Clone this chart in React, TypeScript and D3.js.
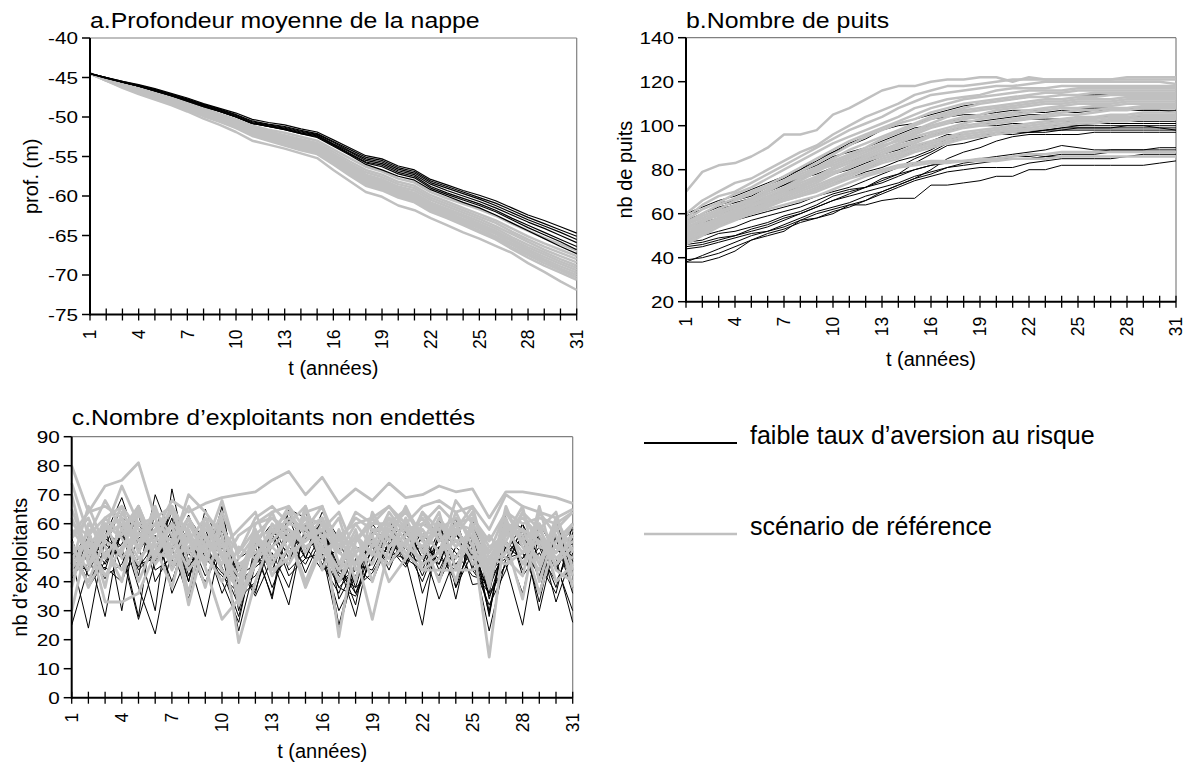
import React from "react";
import * as d3 from "d3";

// ---------- shared categories ----------
const YEARS = [1,2,3,4,5,6,7,8,9,10,11,12,13,14,15,16,17,18,19,20,21,22,23,24,25,26,27,28,29,30,31];
const X_TICK_LABELS = [1,4,7,10,13,16,19,22,25,28,31];

// ---------- panel a : profondeur moyenne de la nappe ----------
const A_Y_TICKS = [-40,-45,-50,-55,-60,-65,-70,-75];
const A_BLACK = [
  [-44.5,-45.0,-45.5,-45.9,-46.4,-47.0,-47.6,-48.3,-48.9,-49.5,-50.3,-50.7,-51.0,-51.5,-51.9,-52.9,-53.9,-54.9,-55.3,-56.2,-56.7,-57.9,-58.6,-59.3,-59.9,-60.6,-61.5,-62.4,-63.1,-63.9,-64.7],
  [-44.5,-45.0,-45.5,-46.0,-46.5,-47.1,-47.7,-48.4,-49.0,-49.7,-50.5,-50.9,-51.2,-51.7,-52.1,-53.1,-54.1,-55.1,-55.5,-56.4,-56.9,-58.1,-58.8,-59.5,-60.2,-60.9,-61.8,-62.7,-63.5,-64.3,-65.1],
  [-44.5,-45.0,-45.6,-46.0,-46.6,-47.2,-47.8,-48.5,-49.1,-49.8,-50.6,-51.0,-51.3,-51.8,-52.2,-53.2,-54.3,-55.3,-55.7,-56.6,-57.1,-58.3,-59.0,-59.7,-60.4,-61.2,-62.1,-63.0,-63.8,-64.6,-65.5],
  [-44.5,-45.0,-45.6,-46.1,-46.6,-47.2,-47.9,-48.6,-49.2,-49.9,-50.7,-51.1,-51.4,-51.9,-52.3,-53.4,-54.4,-55.5,-55.9,-56.8,-57.3,-58.5,-59.3,-60.0,-60.7,-61.5,-62.4,-63.3,-64.1,-65.0,-65.9],
  [-44.5,-45.1,-45.6,-46.1,-46.7,-47.3,-47.9,-48.6,-49.3,-50.0,-50.8,-51.2,-51.5,-52.0,-52.4,-53.5,-54.6,-55.7,-56.1,-57.0,-57.5,-58.8,-59.6,-60.3,-61.0,-61.8,-62.8,-63.7,-64.6,-65.5,-66.4],
  [-44.5,-45.1,-45.6,-46.1,-46.7,-47.3,-48.0,-48.7,-49.3,-50.0,-50.8,-51.2,-51.6,-52.1,-52.5,-53.6,-54.7,-55.8,-56.3,-57.2,-57.7,-59.0,-59.8,-60.5,-61.2,-62.0,-63.0,-64.0,-64.9,-65.8,-66.8],
  [-44.5,-45.1,-45.6,-46.1,-46.7,-47.3,-48.0,-48.7,-49.3,-50.0,-50.8,-51.2,-51.6,-52.1,-52.6,-53.7,-54.8,-56.0,-56.7,-57.5,-58.0,-59.2,-60.0,-60.8,-61.5,-62.4,-63.4,-64.4,-65.4,-66.4,-67.3],
];
const A_GRAY = [
  [-44.5,-45.2,-45.8,-46.3,-46.9,-47.5,-48.2,-48.9,-49.6,-50.3,-51.1,-51.6,-52.0,-52.5,-53.0,-54.1,-55.2,-56.3,-56.9,-57.8,-58.3,-59.5,-60.3,-61.0,-61.7,-62.5,-63.5,-64.4,-65.3,-66.1,-66.9],
  [-44.5,-45.2,-45.8,-46.4,-47.0,-47.6,-48.3,-49.0,-49.7,-50.4,-51.3,-51.8,-52.3,-52.8,-53.3,-54.4,-55.6,-56.7,-57.3,-58.2,-58.7,-59.9,-60.7,-61.5,-62.3,-63.1,-64.1,-65.1,-66.0,-66.8,-67.6],
  [-44.5,-45.2,-45.9,-46.5,-47.1,-47.7,-48.4,-49.1,-49.8,-50.5,-51.4,-52.0,-52.5,-53.0,-53.5,-54.7,-55.9,-57.0,-57.6,-58.5,-59.0,-60.2,-61.0,-61.8,-62.6,-63.4,-64.5,-65.5,-66.4,-67.2,-68.0],
  [-44.5,-45.3,-45.9,-46.5,-47.1,-47.8,-48.5,-49.2,-49.9,-50.7,-51.6,-52.2,-52.7,-53.2,-53.7,-54.9,-56.1,-57.3,-57.9,-58.8,-59.3,-60.5,-61.3,-62.1,-62.9,-63.8,-64.8,-65.8,-66.8,-67.6,-68.4],
  [-44.5,-45.3,-46.0,-46.6,-47.2,-47.8,-48.6,-49.3,-50.0,-50.8,-51.7,-52.4,-52.9,-53.4,-53.9,-55.1,-56.3,-57.5,-58.1,-59.0,-59.6,-60.8,-61.6,-62.4,-63.2,-64.1,-65.2,-66.2,-67.1,-68.0,-68.8],
  [-44.5,-45.3,-46.0,-46.6,-47.3,-47.9,-48.7,-49.4,-50.1,-50.9,-51.8,-52.5,-53.0,-53.5,-54.0,-55.3,-56.5,-57.7,-58.3,-59.2,-59.8,-61.0,-61.8,-62.6,-63.5,-64.4,-65.5,-66.5,-67.4,-68.3,-69.1],
  [-44.5,-45.3,-46.0,-46.7,-47.3,-48.0,-48.7,-49.5,-50.2,-51.0,-51.9,-52.6,-53.1,-53.7,-54.2,-55.5,-56.7,-57.9,-58.5,-59.4,-60.0,-61.2,-62.0,-62.9,-63.7,-64.6,-65.7,-66.8,-67.7,-68.6,-69.4],
  [-44.5,-45.3,-46.1,-46.7,-47.4,-48.1,-48.8,-49.6,-50.3,-51.1,-52.0,-52.7,-53.3,-53.8,-54.3,-55.6,-56.9,-58.1,-58.7,-59.6,-60.2,-61.4,-62.2,-63.1,-63.9,-64.8,-66.0,-67.0,-68.0,-68.9,-69.7],
  [-44.5,-45.3,-46.1,-46.8,-47.4,-48.1,-48.9,-49.7,-50.4,-51.2,-52.1,-52.8,-53.4,-53.9,-54.5,-55.8,-57.1,-58.3,-58.9,-59.8,-60.4,-61.6,-62.4,-63.3,-64.1,-65.1,-66.2,-67.3,-68.2,-69.2,-70.0],
  [-44.5,-45.4,-46.1,-46.8,-47.5,-48.2,-49.0,-49.8,-50.5,-51.3,-52.3,-52.9,-53.5,-54.1,-54.6,-55.9,-57.2,-58.5,-59.1,-60.0,-60.6,-61.8,-62.6,-63.5,-64.4,-65.3,-66.5,-67.5,-68.5,-69.4,-70.3],
  [-44.5,-45.4,-46.2,-46.9,-47.6,-48.3,-49.1,-49.9,-50.6,-51.4,-52.4,-53.0,-53.6,-54.2,-54.7,-56.0,-57.4,-58.7,-59.3,-60.2,-60.8,-62.0,-62.8,-63.7,-64.6,-65.5,-66.7,-67.8,-68.8,-69.7,-70.6],
  [-44.5,-45.4,-46.3,-47.1,-47.8,-48.5,-49.3,-50.2,-51.0,-51.9,-53.0,-53.5,-54.0,-54.6,-55.2,-56.7,-58.1,-59.5,-60.1,-61.2,-61.8,-62.8,-63.7,-64.6,-65.4,-66.3,-67.2,-68.5,-69.6,-70.8,-71.9],
];

// ---------- panel b : nombre de puits ----------
const B_Y_TICKS = [20,40,60,80,100,120,140];
const B_BLACK = [
  [38,38,40,43,48,50,52,57,58,60,64,64,66,67,67,73,73,74,75,77,77,80,80,82,82,82,82,82,82,83,84],
  [39,40,42,45,48,51,53,56,58,61,63,66,69,72,75,77,79,80,81,81,81,83,84,85,85,85,85,86,86,86,86],
  [44,45,47,49,51,52,54,57,60,62,64,66,70,73,76,78,81,82,83,84,85,85,86,87,87,87,88,88,88,88,88],
  [46,47,49,50,53,55,58,60,63,66,68,70,72,74,77,79,81,83,84,85,86,86,87,88,88,88,89,89,89,90,90],
  [47,48,51,52,54,56,59,61,64,68,70,72,74,77,80,82,84,84,85,86,87,88,89,91,90,89,89,89,89,89,89],
  [38,41,44,47,50,52,55,58,61,63,65,68,70,73,76,80,85,88,90,93,95,96,96,96,96,97,97,97,97,97,97],
  [48,50,52,54,57,59,61,63,66,69,71,72,76,78,83,87,91,92,94,96,96,97,97,98,98,98,98,98,98,98,98],
  [50,52,55,57,59,61,63,65,68,70,72,75,78,81,85,88,92,94,95,96,97,97,98,98,99,99,99,99,99,99,99],
  [54,56,58,60,62,64,66,68,71,74,76,79,81,84,86,89,93,94,95,97,97,97,98,99,100,100,100,100,100,100,100],
  [52,55,58,61,63,65,67,70,73,76,78,80,84,86,88,90,94,95,96,97,98,98,98,99,99,99,99,100,100,99,98],
  [55,58,61,63,65,68,70,72,75,78,80,83,86,88,90,93,96,96,97,98,99,99,100,100,100,101,101,101,101,101,101],
  [53,57,60,62,65,67,70,73,75,78,82,85,87,89,92,95,98,99,100,100,101,101,102,102,102,102,102,102,102,102,102],
  [57,60,63,65,67,70,73,76,78,81,84,86,89,92,94,96,98,100,101,101,102,103,103,103,104,104,104,104,104,104,104],
  [55,59,62,64,67,70,73,77,80,84,87,89,91,93,96,99,101,102,102,103,104,105,105,106,106,107,107,107,107,107,107],
  [56,60,64,66,68,72,75,79,82,86,88,90,93,96,99,100,102,103,104,105,106,106,106,107,107,107,107,107,107,107,106],
  [59,62,65,66,70,73,76,80,85,88,92,95,98,100,101,103,104,105,105,106,107,107,107,108,108,108,108,108,108,108,108],
  [60,63,66,68,71,74,77,80,84,88,91,94,98,101,103,105,107,109,110,111,112,113,113,114,114,114,114,114,114,114,114],
  [45,46,48,50,52,54,57,60,63,66,69,72,75,78,80,82,83,84,84,85,85,85,86,86,86,86,86,86,87,87,87],
];
const B_GRAY = [
  [70,79,82,83,86,90,96,96,98,105,108,112,116,118,118,120,121,121,122,122,120,122,121,121,121,121,121,122,122,122,122],
  [60,66,70,74,76,80,84,88,91,96,100,104,107,110,114,116,118,118,119,120,121,121,121,121,121,121,121,121,121,121,121],
  [58,64,68,70,74,78,82,86,90,94,98,101,104,108,111,114,115,116,117,118,118,119,120,120,120,120,120,120,120,120,119],
  [57,62,65,69,72,76,80,84,88,92,95,98,101,104,108,110,112,113,114,116,117,117,117,118,118,118,118,118,118,118,118],
  [56,60,64,67,70,73,77,81,85,89,93,96,99,102,105,108,110,112,113,114,115,116,116,116,117,117,117,117,117,117,117],
  [55,59,62,66,69,72,75,79,83,87,91,95,98,101,103,106,108,110,111,112,113,114,115,115,116,116,116,116,116,116,116],
  [55,58,61,64,67,71,74,78,81,85,89,92,95,98,101,104,106,108,110,111,112,113,113,114,114,115,115,115,115,115,115],
  [54,57,60,63,66,69,72,76,80,84,87,90,94,97,100,103,105,107,108,109,110,111,112,112,113,113,114,114,114,114,114],
  [53,57,59,62,65,68,71,75,79,83,86,89,92,95,98,101,104,106,107,108,109,110,111,111,112,112,112,113,113,113,113],
  [52,55,58,61,64,67,70,74,77,81,84,87,90,94,97,100,102,104,105,107,108,109,110,110,111,111,111,112,112,112,112],
  [52,56,60,63,66,70,74,77,80,82,85,88,91,93,96,99,101,103,104,105,106,107,108,109,110,110,110,111,111,111,111],
  [51,54,57,60,63,66,69,72,76,80,83,86,89,92,95,97,99,101,103,104,105,106,107,108,108,109,109,110,110,110,110],
  [50,53,56,59,62,65,68,71,74,78,82,85,88,91,93,96,98,100,101,102,103,104,105,106,107,107,108,108,109,109,109],
  [50,54,58,61,64,67,70,73,76,79,81,84,87,90,92,95,97,99,100,101,102,103,104,105,105,106,107,107,108,108,108],
  [49,53,56,59,62,65,68,72,75,78,81,84,86,88,91,93,95,97,98,99,100,101,102,103,104,104,105,105,106,106,106],
  [48,52,55,58,61,64,67,70,73,76,79,82,85,87,90,92,94,96,97,98,99,100,101,102,103,103,104,104,105,105,105],
  [47,51,55,58,61,64,66,69,72,75,78,81,84,86,89,91,93,95,96,97,98,99,100,101,102,102,103,103,104,104,104],
  [46,50,54,57,60,63,66,68,71,74,77,80,83,85,88,90,92,94,95,96,97,98,99,100,101,101,102,102,103,103,103],
  [50,55,58,60,62,64,66,68,70,73,76,78,80,82,83,84,84,84,85,85,86,87,87,88,88,88,88,88,88,88,88],
  [48,52,56,58,60,62,64,66,68,71,74,77,79,81,82,83,83,84,84,84,85,85,85,86,86,86,86,86,86,86,86],
];

// ---------- panel c : nombre d'exploitants non endettés ----------
const C_Y_TICKS = [0,10,20,30,40,50,60,70,80,90];
const C_BLACK = [
  [25,45,56,69,52,30,72,46,58,44,28,50,35,65,62,54,38,35,48,55,60,48,52,57,45,38,52,48,56,40,45],
  [48,24,55,50,27,47,62,40,65,50,23,46,52,64,50,58,45,36,52,50,48,25,60,38,50,23,48,50,36,61,42],
  [44,50,28,60,42,70,55,48,28,55,45,35,48,32,60,50,23,46,57,62,50,52,34,49,56,38,63,58,30,55,36],
  [52,47,60,30,65,40,50,63,48,42,36,55,42,48,66,52,46,28,54,48,57,46,50,40,52,35,46,25,58,48,26],
  [49,55,46,57,38,22,52,58,45,66,34,40,56,58,48,62,40,44,50,56,46,60,58,34,60,45,50,60,48,52,58],
  [46,44,53,48,56,62,36,50,40,52,46,36,60,44,50,64,55,38,43,53,59,48,42,58,39,40,62,46,55,33,50],
  [55,38,47,56,45,53,47,62,54,36,48,52,34,62,48,50,30,42,55,46,52,40,55,46,52,29,57,52,42,60,47],
  [41,52,44,62,58,46,58,40,62,48,40,45,50,38,58,46,52,36,48,60,50,46,62,38,55,42,52,36,60,50,53],
  [50,48,58,52,28,66,44,52,38,58,42,55,38,52,46,57,25,48,52,46,62,50,46,62,44,36,46,56,46,36,60],
  [47,58,42,46,60,50,64,42,56,45,32,48,46,55,52,44,47,32,60,52,45,56,40,52,58,28,60,44,52,46,30],
  [43,46,60,44,48,56,40,58,46,64,38,42,52,46,64,50,38,44,46,58,55,42,56,50,42,40,50,55,33,58,48],
  [52,40,50,58,44,50,66,45,54,40,26,53,60,48,55,60,43,40,56,44,58,52,48,44,62,34,54,48,56,44,55],
  [39,56,48,53,63,44,48,56,42,52,40,58,44,58,43,56,50,46,44,56,48,44,58,52,46,32,44,60,40,56,38],
  [54,42,45,40,55,58,52,34,60,50,45,37,55,50,60,46,36,52,50,62,46,58,44,56,52,36,62,42,50,40,52],
  [47,54,52,66,50,60,45,52,48,60,30,50,48,56,52,54,42,38,58,50,62,36,52,46,54,30,58,50,44,52,44],
  [45,50,41,57,46,48,56,46,50,43,42,46,57,42,48,62,34,45,40,54,48,55,46,60,48,44,48,58,52,38,57],
];
const C_GRAY = [
  [80,64,73,75,81,62,66,50,60,48,40,55,58,54,62,60,52,55,49,62,58,52,60,56,64,48,58,50,60,52,48],
  [74,56,62,66,58,57,68,64,67,69,70,71,75,78,70,76,67,72,68,74,69,70,73,71,72,62,71,71,70,69,67],
  [70,46,58,73,60,55,52,70,64,56,19,40,56,62,58,62,21,54,60,60,65,56,58,62,55,14,60,58,54,50,60],
  [30,55,33,33,36,50,48,58,45,27,34,48,52,46,56,54,44,50,27,52,60,44,48,64,52,40,66,52,44,60,38],
  [56,64,66,62,40,54,66,56,38,60,44,52,64,66,58,52,40,54,62,56,52,64,54,58,66,44,56,66,40,58,64],
  [42,52,60,48,56,60,46,54,62,50,36,56,62,58,52,56,40,50,54,48,62,50,62,54,56,42,60,54,48,52,56],
  [48,40,55,66,50,64,56,44,52,54,46,50,54,60,66,50,55,46,56,62,54,58,50,68,60,50,58,62,56,46,52],
  [55,62,48,58,66,52,38,60,50,64,50,58,42,52,64,66,46,58,40,58,48,64,58,40,62,52,54,34,64,56,42],
  [52,44,60,55,46,58,64,50,56,44,38,60,64,50,54,58,50,60,62,66,60,66,68,64,66,58,70,66,64,62,65],
  [46,66,52,40,64,48,60,36,60,52,58,64,48,56,40,54,62,44,52,58,64,55,40,58,50,46,60,56,36,54,60],
  [58,50,56,60,52,66,50,62,46,62,32,46,60,54,62,48,56,52,46,60,52,48,60,52,58,38,62,46,58,48,54],
  [50,54,42,52,57,50,60,32,55,50,42,52,56,66,50,60,54,62,58,52,56,62,54,60,46,52,56,58,46,62,50],
  [62,48,62,56,66,46,54,62,52,68,48,56,44,48,66,44,58,40,64,54,66,54,64,44,60,50,64,54,60,40,46],
  [44,58,38,64,54,60,44,56,50,40,52,48,58,64,56,58,64,50,56,40,48,60,56,48,58,44,54,64,52,50,60],
  [54,38,50,44,60,62,48,52,58,54,34,58,46,56,38,52,44,56,50,46,54,46,50,54,48,56,48,42,66,44,40],
  [60,56,68,58,48,54,66,46,62,58,50,62,66,60,58,66,52,64,60,66,58,60,66,60,62,54,64,60,62,60,64],
  [38,60,54,50,66,52,60,54,48,60,44,54,52,58,54,62,50,46,58,58,50,44,44,44,44,48,46,50,54,46,56],
  [65,50,58,62,52,58,54,66,56,46,56,60,62,56,60,56,56,60,52,64,56,58,50,60,58,46,50,64,58,64,44],
];

// ---------- legend ----------
const LEGEND = [
  { label: "faible taux d\u2019aversion au risque", kind: "black" },
  { label: "sc\u00e9nario de r\u00e9f\u00e9rence", kind: "gray" },
];

const FONT = "'Liberation Sans', Arial, Helvetica, sans-serif";
const GRAY = "#c0c0c0";

type PanelProps = {
  title: string;
  yTitle: string;
  left: number; right: number; top: number; bottom: number;
  yDomain: [number, number];
  yTicks: number[];
  black: number[][];
  gray: number[][];
  grayOnTop: boolean;
  blackWidth: number;
  grayWidth: number;
  titleY: number;
  yTitleX: number;
  xTitleY: number;
};

function Panel(p: PanelProps) {
  const xs = d3.scaleLinear().domain([1, 31]).range([p.left, p.right]);
  const ys = d3.scaleLinear().domain(p.yDomain).range([p.bottom, p.top]);
  const line = d3
    .line<number>()
    .x((_, i) => xs(YEARS[i]))
    .y((d) => ys(d));
  const blackPaths = p.black.map((s, i) => (
    <path key={"b" + i} d={line(s) || ""} fill="none" stroke="#000" strokeWidth={p.blackWidth} strokeLinejoin="round" />
  ));
  const grayPaths = p.gray.map((s, i) => (
    <path key={"g" + i} d={line(s) || ""} fill="none" stroke={GRAY} strokeWidth={p.grayWidth} strokeLinejoin="round" />
  ));
  const cx = (p.left + p.right) / 2;
  const cy = (p.top + p.bottom) / 2;
  return (
    <g>
      <text transform={`translate(${p.left},${p.titleY}) scale(1.13,1)`} fontSize={22} fontFamily={FONT} fill="#000">{p.title}</text>
      {/* frame */}
      <line x1={p.left} x2={p.right} y1={p.top} y2={p.top} stroke="#808080" strokeWidth={1.2} />
      <line x1={p.right} x2={p.right} y1={p.top} y2={p.bottom} stroke="#808080" strokeWidth={1.2} />
      {p.grayOnTop ? blackPaths : grayPaths}
      {p.grayOnTop ? grayPaths : blackPaths}
      {/* axes */}
      <line x1={p.left} x2={p.left} y1={p.top} y2={p.bottom + 1} stroke="#000" strokeWidth={2} />
      <line x1={p.left} x2={p.right} y1={p.bottom} y2={p.bottom} stroke="#000" strokeWidth={2} />
      {p.yTicks.map((t) => (
        <g key={"yt" + t}>
          <line x1={p.left - 8} x2={p.left} y1={ys(t)} y2={ys(t)} stroke="#000" strokeWidth={1.5} />
          <text transform={`translate(${p.left - 12},${ys(t)}) scale(1.22,1)`} dy="0.36em" textAnchor="end" fontSize={17} fontFamily={FONT} fill="#000">{t}</text>
        </g>
      ))}
      {YEARS.map((t) => (
        <line key={"xt" + t} x1={xs(t)} x2={xs(t)} y1={p.bottom - 6} y2={p.bottom + 6} stroke="#000" strokeWidth={1.3} />
      ))}
      {X_TICK_LABELS.map((t) => (
        <text key={"xl" + t} transform={`translate(${xs(t)},${p.bottom + 15}) rotate(-90)`} dy="0.36em" textAnchor="end" fontSize={17.5} fontFamily={FONT} fill="#000">{t}</text>
      ))}
      <text x={cx} y={p.xTitleY} textAnchor="middle" fontSize={20} fontFamily={FONT} fill="#000">t (années)</text>
      <text transform={`translate(${p.yTitleX},${cy}) rotate(-90)`} textAnchor="middle" dy="0.36em" fontSize={20} fontFamily={FONT} fill="#000">{p.yTitle}</text>
    </g>
  );
}

export default function App() {
  return (
    <svg width={1189} height={769} style={{ position: "absolute", left: 0, top: 0, background: "#fff" }}>
      <rect x={0} y={0} width={1189} height={769} fill="#fff" />
      <Panel
        title="a.Profondeur moyenne de la nappe"
        yTitle="prof. (m)"
        left={90} right={576.7} top={38} bottom={314.5}
        yDomain={[-75, -40]} yTicks={A_Y_TICKS}
        black={A_BLACK} gray={A_GRAY} grayOnTop={false}
        blackWidth={1.2} grayWidth={2.5}
        titleY={28} yTitleX={31} xTitleY={375}
      />
      <Panel
        title="b.Nombre de puits"
        yTitle="nb de puits"
        left={686} right={1176} top={37.7} bottom={301.7}
        yDomain={[20, 140]} yTicks={B_Y_TICKS}
        black={B_BLACK} gray={B_GRAY} grayOnTop={true}
        blackWidth={1} grayWidth={2.5}
        titleY={28} yTitleX={625} xTitleY={366}
      />
      <Panel
        title="c.Nombre d’exploitants non endettés"
        yTitle="nb d’exploitants"
        left={71.7} right={572.7} top={436.7} bottom={697.7}
        yDomain={[0, 90]} yTicks={C_Y_TICKS}
        black={C_BLACK} gray={C_GRAY} grayOnTop={true}
        blackWidth={1} grayWidth={2.8}
        titleY={425} yTitleX={20} xTitleY={758}
      />
      {LEGEND.map((l, i) => {
        const y = 443 + i * 91;
        return (
          <g key={"lg" + i}>
            <line x1={644} x2={737} y1={y} y2={y} stroke={l.kind === "black" ? "#000" : GRAY} strokeWidth={l.kind === "black" ? 2 : 2.5} />
            <text x={750} y={y + 1} fontSize={25} fontFamily={FONT} fill="#000">{l.label}</text>
          </g>
        );
      })}
    </svg>
  );
}
